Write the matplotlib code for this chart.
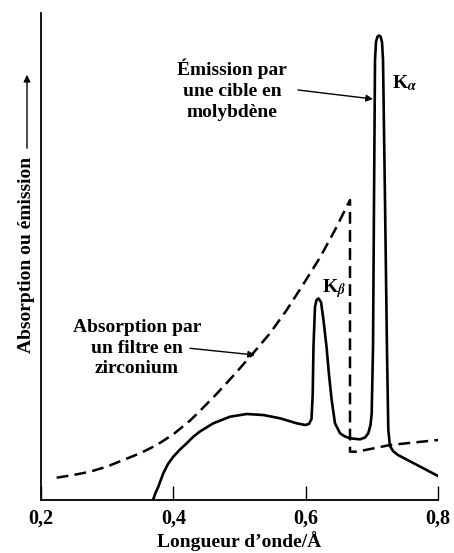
import matplotlib
matplotlib.use("Agg")
import matplotlib.pyplot as plt

plt.rcParams['font.family'] = ['Liberation Serif', 'DejaVu Serif']
plt.rcParams['font.weight'] = 'bold'
plt.rcParams['mathtext.fontset'] = 'stix'
plt.rcParams['lines.scale_dashes'] = False

# Emission spectrum of a molybdenum target (arbitrary units)
emission_x = [0.3693, 0.3730, 0.3773, 0.3848, 0.3919, 0.4000, 0.4101, 0.4202, 0.4302,
              0.4403, 0.4604, 0.4856, 0.5109, 0.5360, 0.5612, 0.5865, 0.5990, 0.6050,
              0.6088, 0.6106, 0.6118, 0.6141, 0.6164, 0.6194, 0.6232, 0.6269, 0.6315,
              0.6353, 0.6393, 0.6443, 0.6519, 0.6594, 0.6670, 0.6821, 0.6897, 0.6946,
              0.6980, 0.6998, 0.7018, 0.7033, 0.7048, 0.7063, 0.7086, 0.7108, 0.7131,
              0.7154, 0.7169, 0.7199, 0.7229, 0.7249, 0.7274, 0.7320, 0.7395, 0.8]
emission_y = [0.0, 1.44, 2.73, 5.48, 7.39, 8.89, 10.37, 11.64, 13.0,
              14.07, 15.75, 17.10, 17.66, 17.45, 16.78, 15.75, 15.40, 15.61,
              16.63, 21.56, 31.48, 39.69, 41.07, 41.38, 40.66, 36.96, 31.48,
              25.67, 20.53, 15.75, 13.70, 13.04, 12.67, 12.46, 12.83, 13.70,
              15.40, 17.80, 31.48, 61.60, 90.35, 94.05, 95.18, 95.38, 95.18,
              94.05, 90.35, 61.60, 30.80, 14.37, 11.09, 10.06, 9.24, 4.93]

# Absorption of a zirconium filter (arbitrary units)
absorption_x = [0.2237, 0.2488, 0.2741, 0.2993, 0.3244, 0.3496, 0.3749, 0.4000, 0.4252,
                0.4403, 0.4655, 0.4906, 0.5209, 0.5461, 0.5713, 0.5964, 0.6217, 0.6443,
                0.6670, 0.6670, 0.6776, 0.7274, 0.8]
absorption_y = [4.58, 5.13, 5.81, 6.84, 8.21, 9.59, 11.29, 13.5, 16.3,
                18.3, 21.8, 25.5, 30.19, 34.23, 39.01, 44.3, 49.8, 55.44,
                61.60, 9.92, 9.92, 11.29, 12.32]

xticks = [0.2, 0.4, 0.6, 0.8]
xtick_labels = ["0,2", "0,4", "0,6", "0,8"]

W, H = 454, 553
fig = plt.figure(figsize=(W / 100, H / 100), dpi=100)
ax = fig.add_axes([41 / W, 53 / H, 397 / W, 487 / H])

ax.plot(emission_x, emission_y, color='black', lw=1.9, solid_joinstyle='round')
ax.plot(absorption_x, absorption_y, color='black', lw=1.8, ls=(0, (8.5, 4.5)))

ax.set_xlim(0.2, 0.8)
ax.set_ylim(0, 100)
ax.spines['top'].set_visible(False)
ax.spines['right'].set_visible(False)
ax.spines['left'].set_linewidth(1.3)
ax.spines['bottom'].set_linewidth(1.3)
ax.set_yticks([])
ax.set_xticks(xticks)
ax.set_xticklabels(xtick_labels, fontsize=14.5, fontweight='bold')
ax.tick_params(axis='x', direction='in', length=10, width=1.0, pad=6)
ax.set_xlabel("Longueur d’onde/Å", fontsize=14, fontweight='bold', labelpad=2)

fs = 14
ax.text(0.4887, 84.2, "Émission par\nune cible en\nmolybdène", ha='center', va='center',
        fontsize=fs, linespacing=1.3)
ax.annotate("", xy=(0.7018, 82.34), xytext=(0.5884, 84.19),
            arrowprops=dict(arrowstyle='-|>', color='black', lw=1.0,
                            mutation_scale=10, shrinkA=0, shrinkB=0))
ax.text(0.3451, 31.2, "Absorption par\nun filtre en\nzirconium", ha='center', va='center',
        fontsize=fs, linespacing=1.3)
ax.annotate("", xy=(0.5234, 29.77), xytext=(0.4252, 31.15),
            arrowprops=dict(arrowstyle='-|>', color='black', lw=1.0,
                            mutation_scale=10, shrinkA=0, shrinkB=0))
ax.text(0.7305, 85.6, r"K$_\alpha$", fontsize=fs, ha='left', va='center')
ax.text(0.6247, 43.5, r"K$_\beta$", fontsize=fs, ha='left', va='center')

# y label with upward arrow
fig.text(27 / W, 1 - 255 / H, "Absorption ou émission", rotation=90,
         ha='center', va='center', fontsize=fs)
fig.add_artist(matplotlib.patches.FancyArrowPatch(
    (27 / W, 1 - 151 / H), (27 / W, 1 - 72 / H), transform=fig.transFigure,
    arrowstyle='-|>', mutation_scale=10, color='black', lw=1.0))

fig.savefig("out.png", dpi=100)
